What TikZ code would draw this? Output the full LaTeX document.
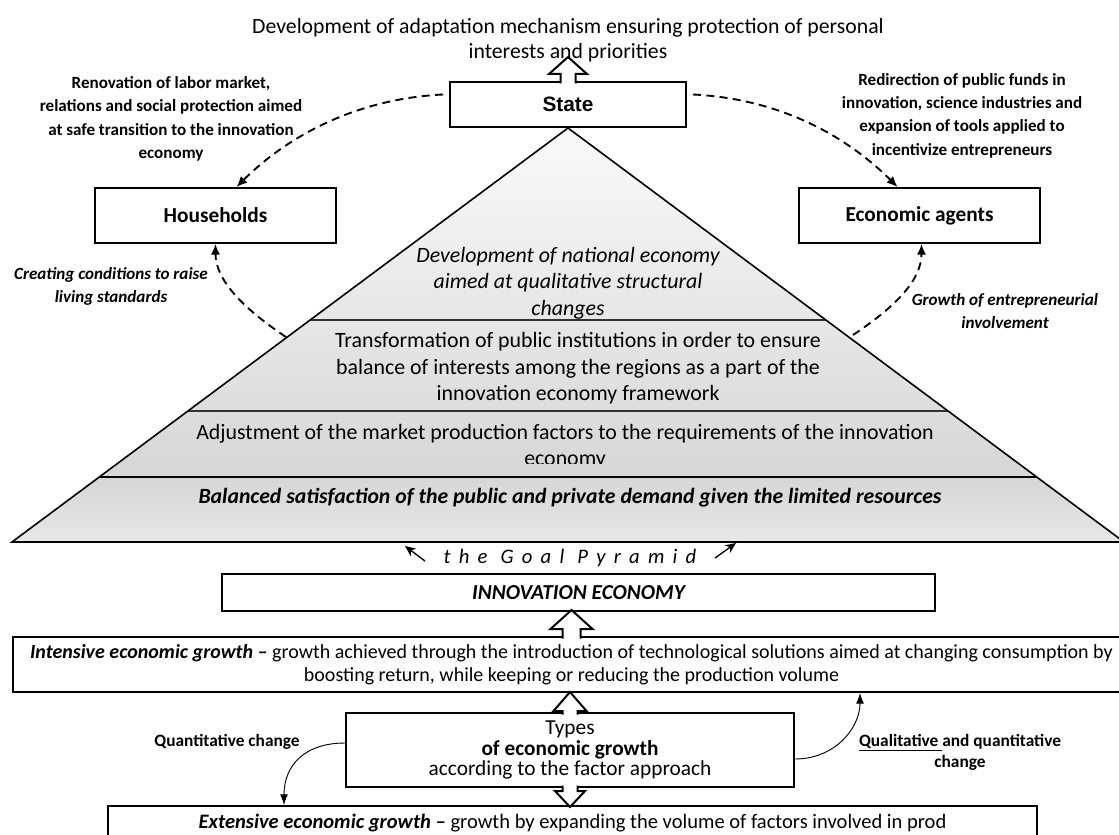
\documentclass[tikz,border=0pt]{standalone}
\usepackage{fontspec}
\setmainfont{Carlito}
\newfontfamily\statefont{Liberation Sans}
\usetikzlibrary{calc,positioning,arrows.meta}

\begin{document}
\begin{tikzpicture}[x=0.75pt,y=-0.75pt,
  box/.style={draw, line width=1.5pt, fill=white, inner sep=0pt, align=center},
  note/.style={align=center, inner sep=0pt, font={\fontsize{12.8}{17.5}\selectfont\bfseries}},
  inote/.style={note, font={\fontsize{12.8}{17}\selectfont\bfseries\itshape}},
  layer/.style={align=center, inner sep=0pt, font={\fontsize{16.4}{19.9}\selectfont}},
  link/.style={dash pattern=on 6pt off 4pt, line width=1.4pt, -{Latex[length=8pt,width=7pt]}},
  curvelink/.style={line width=0.7pt, -{Latex[length=8pt,width=6pt]}},
  goalarrow/.style={line width=1pt, -{Stealth[length=8pt,width=7pt]}},
  hollow/.style={draw, fill=white, line width=1.5pt, line join=miter},
]
\useasboundingbox (0,0) rectangle (1119,834);

% the pyramid
\begin{scope}
  \clip (568,128) -- (12,542) -- (1124,542) -- cycle;
  \shade[top color=black!2, bottom color=black!16] (0,128) rectangle (1124,478);
  \shade[top color=black!16, bottom color=black!9] (0,478) rectangle (1124,542);
  \draw[black!80, line width=0.9pt] (0,320) -- (1124,320) (0,411) -- (1124,411);
  \draw[line width=2pt] (0,477) -- (1124,477);
\end{scope}
\draw[line width=1.2pt, line join=miter] (568,128) -- (12,542) -- (1124,542) -- cycle;
\draw[line width=1.8pt] (12,542) -- (1124,542);

\node[layer, font={\fontsize{16.4}{19.9}\selectfont\itshape}] (level1) at (568,283)
  {Development of national economy\\aimed at qualitative structural\\changes};
\node[layer] (level2) at (578,368.5)
  {Transformation of public institutions in order to ensure\\balance of interests among the regions as a part of the\\innovation economy framework};
\begin{scope}
  \clip (0,412) rectangle (1119,463);
  \node[layer] (level3) at (565,446.5)
    {Adjustment of the market production factors to the requirements of the innovation\\economy};
\end{scope}
\node[layer, font={\fontsize{16.3}{19}\selectfont\bfseries\itshape}] (level4) at (570,498)
  {Balanced satisfaction of the public and private demand given the limited resources};

% top
\node[layer, font={\fontsize{16.3}{18.75}\selectfont}] (aim) at (568,40)
  {Development of adaptation mechanism ensuring protection of personal\\interests and priorities};
\node[box, minimum width=177pt, minimum height=33.75pt,
  font={\statefont\fontsize{15.6}{18}\selectfont\bfseries}] (state) at (568,104.5) {State};
\node[box, minimum width=180.75pt, minimum height=41.25pt,
  font={\fontsize{16}{19}\selectfont\bfseries}] (house) at (215.5,215.5) {Households};
\node[box, minimum width=180.75pt, minimum height=41.25pt,
  font={\fontsize{16}{19}\selectfont\bfseries}] (agents) at (919.5,215.5) {Economic agents};

\node[note] (renov) at (171,119) {Renovation of labor market,\\relations and social protection aimed\\at safe transition to the innovation\\economy};
\node[note] (redir) at (962,115.5) {Redirection of public funds in\\innovation, science industries and\\expansion of tools applied to\\incentivize entrepreneurs};
\node[inote] (living) at (111,286.5) {Creating conditions to raise\\living standards};
\node[inote] (involve) at (1005,311) {Growth of entrepreneurial\\involvement};

\coordinate (housefoot) at (286,337);
\coordinate (agentfoot) at (853,335);

\draw[hollow] ($(state.north)+(-7.5,2.5)$) -- ++(0,-9.5) -- ++(-11.5,0) -- ++(19,-17) -- ++(19,17) -- ++(-11.5,0) -- ++(0,9.5);

\draw[link] ($(state.west)+(-6,-10)$) .. controls +(-100,5) and +(40,-40) .. ($(house.north)+(21,0)$);
\draw[link] ($(state.east)+(6,-10)$) .. controls +(100,5) and +(-40,-40) .. ($(agents.north)+(-22,0)$);
\draw[link] (housefoot) .. controls +(-45,-30) and +(0,35) .. (house.south);
\draw[link] (agentfoot) .. controls +(45,-30) and +(0,35) .. ($(agents.south)+(2,0)$);

% bottom part
\node[font={\fontsize{15.5}{18}\selectfont\itshape\addfontfeature{LetterSpace=40}}, inner sep=0pt] (pyr) at (570,558) {the Goal Pyramid};
\coordinate (gl0) at (425,561);
\coordinate (gl1) at (405,546);
\coordinate (gr0) at (715,558);
\coordinate (gr1) at (736,543);
\draw[goalarrow] (gl0) -- (gl1);
\draw[goalarrow] (gr0) -- (gr1);

\node[box, minimum width=534.75pt, minimum height=27.75pt,
  font={\fontsize{16}{19}\selectfont\bfseries\itshape}] (innov) at (578.5,592.5) {INNOVATION ECONOMY};
\node[box, minimum width=837.75pt, minimum height=41.25pt,
  font={\fontsize{15}{17.25}\selectfont}] (intens) at (571.5,664.5)
  {\textbf{\textit{Intensive economic growth --}} growth achieved through the introduction of technological solutions aimed at changing consumption by\\boosting return, while keeping or reducing the production volume};
\node[box, minimum width=336pt, minimum height=55.5pt,
  font={\fontsize{16}{15.5}\selectfont}] (types) at (570,750)
  {Types\\\textbf{of economic growth}\\according to the factor approach};
\node[box, minimum width=696.75pt, minimum height=25.5pt,
  font={\fontsize{15.4}{19}\selectfont}] (extens) at (572.5,823)
  {\textbf{\textit{Extensive economic growth --}} growth by expanding the volume of factors involved in prod};

\node[note, font={\fontsize{13}{16}\selectfont\bfseries}] (quant) at (227,742) {Quantitative change};
\node[note, font={\fontsize{13}{15.75}\selectfont\bfseries}] (qual) at (960,752.5) {\underline{Qualitative\ }and quantitative\\change};

\draw[hollow] ($(intens.north)+(-9,2.5)$) -- ++(0,-9.5) -- ++(-12,0) -- ++(21,-19) -- ++(21,19) -- ++(-12,0) -- ++(0,9.5);
\draw[hollow] ($(types.north)+(-7.5,2.5)$) -- ++(0,-3.5) -- ++(-9,0) -- ++(16.5,-19) -- ++(16.5,19) -- ++(-9,0) -- ++(0,3.5);
\draw[hollow] ($(types.south)+(-7.5,-2.5)$) -- ++(0,5.5) -- ++(-7.5,0) -- ++(15,16) -- ++(15,-16) -- ++(-7.5,0) -- ++(0,-5.5);

\draw[curvelink] ($(types.west)+(0,-7)$) .. controls +(-40,0) and +(0,-40) .. ($(extens.north)+(-288.5,0)$);
\draw[curvelink] ($(types.east)+(0,9)$) .. controls +(40,0) and +(0,35) .. ($(intens.south)+(288.5,0)$);
\end{tikzpicture}
\end{document}
